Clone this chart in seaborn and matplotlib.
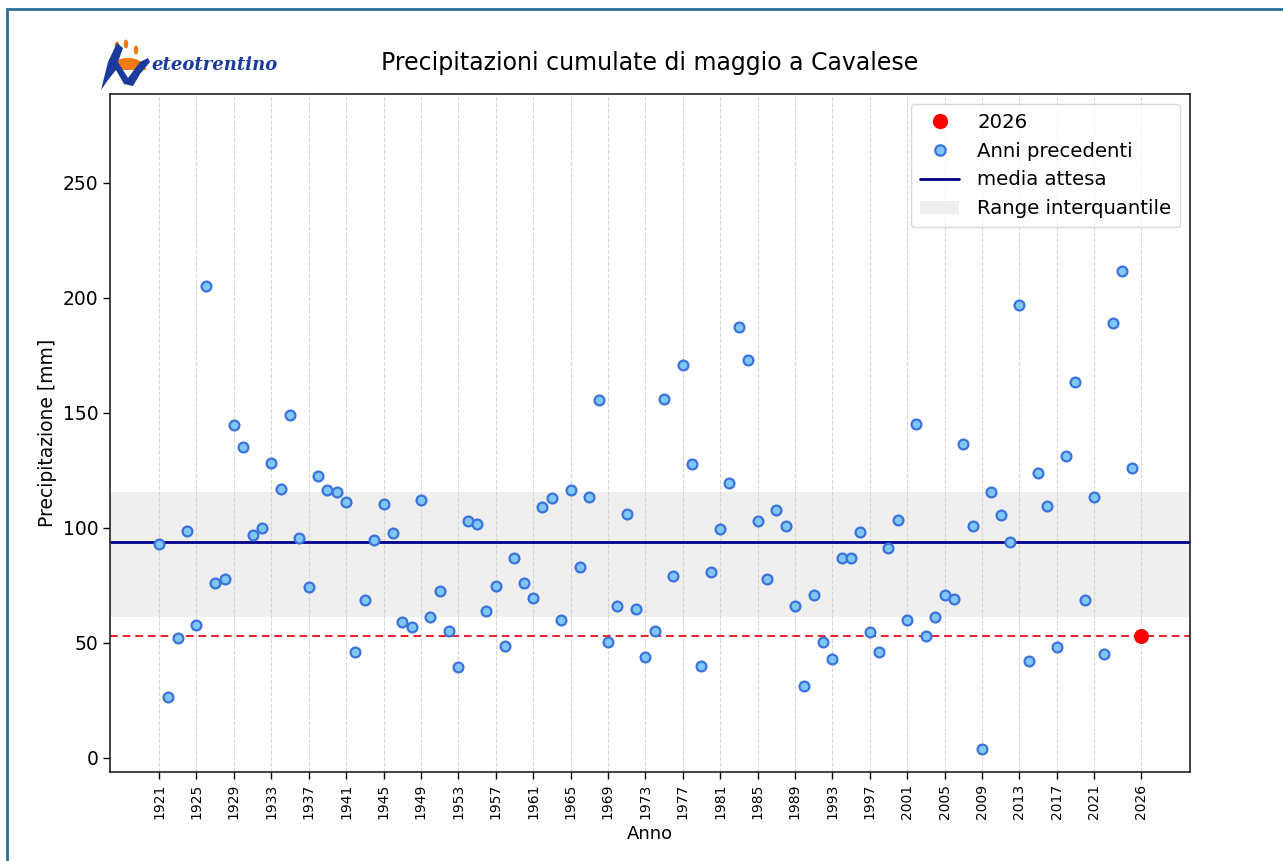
import numpy as np
import pandas as pd
import matplotlib
matplotlib.use("Agg")
import matplotlib.pyplot as plt
import seaborn as sns
from matplotlib.patches import Rectangle, Patch, Polygon, Wedge, Ellipse
from matplotlib.lines import Line2D

# ---- data ----
years = list(range(1921, 2026))
precip = [
    92.9, 26.2, 52.0, 98.7, 57.7, 205.1, 75.8, 77.7, 144.5, 135.1,   # 1921-1930
    97.0, 100.0, 128.1, 117.0, 149.1, 95.7, 74.3, 122.6, 116.2, 115.5,  # 1931-1940
    111.2, 46.0, 68.6, 94.6, 110.3, 97.5, 59.1, 56.8, 112.0, 61.2,   # 1941-1950
    72.3, 55.2, 39.4, 103.0, 101.4, 63.9, 74.6, 48.7, 86.7, 76.1,    # 1951-1960
    69.3, 109.0, 112.9, 59.9, 116.2, 82.9, 113.3, 155.7, 50.4, 65.8,  # 1961-1970
    105.8, 64.8, 43.9, 54.9, 156.1, 79.0, 171.0, 127.5, 39.7, 80.9,   # 1971-1980
    99.6, 119.3, 187.3, 173.0, 102.8, 77.7, 107.9, 100.7, 65.9, 31.3,  # 1981-1990
    70.7, 50.4, 42.9, 87.0, 87.0, 98.1, 54.8, 45.8, 91.0, 103.5,     # 1991-2000
    59.7, 145.1, 53.0, 61.3, 70.9, 69.0, 136.2, 100.9, 3.9, 115.4,    # 2001-2010
    105.4, 93.9, 197.1, 42.0, 123.6, 109.6, 48.1, 131.3, 163.3, 68.6,  # 2011-2020
    113.2, 45.2, 189.1, 211.9, 126.0,                                 # 2021-2025
]
current_year = 2026
current_value = 52.7
mean_expected = 93.6
q25, q75 = 61.0, 115.5
tick_years = list(range(1921, 2022, 4)) + [2026]

title = "Precipitazioni cumulate di maggio a Cavalese"
xlabel = "Anno"
ylabel = "Precipitazione [mm]"

df = pd.DataFrame({"Anno": years, "Precipitazione": precip})

# ---- figure ----
sns.set_style("white")
plt.rcParams["font.family"] = ["DejaVu Sans"]
for k in ["text.color", "axes.labelcolor", "xtick.color", "ytick.color"]:
    plt.rcParams[k] = "black"

W, H = 1283, 861
fig = plt.figure(figsize=(W/100, H/100), dpi=100)
ax = fig.add_axes([110/W, 89/H, 1080/W, 678/H])

ax.axhspan(q25, q75, color="#efefef", zorder=0, lw=0)
ax.axhline(mean_expected, color="#00008b", lw=2, zorder=2)
ax.axhline(current_value, color="#e8202a", lw=1.4, ls=(0, (4, 2.5)), zorder=2)

sns.scatterplot(data=df, x="Anno", y="Precipitazione", ax=ax,
                s=50, color="#80c6f6", edgecolor="#3b72dc", linewidth=1.6,
                zorder=3, legend=False)
ax.scatter([current_year], [current_value], s=95, color="red", zorder=4)

ax.set_xticks(tick_years)
ax.set_xticklabels([str(y) for y in tick_years], rotation=90, fontsize=10)
ax.tick_params(axis="y", labelsize=13.5)
ax.tick_params(axis="both", which="both", length=5, width=1, color="black", direction="out",
               bottom=True, left=True)
ax.set_xlim(1915.75, 2031.25)
ax.set_ylim(-6.3, 288.7)
ax.set_yticks([0, 50, 100, 150, 200, 250])
ax.grid(axis="x", color="#cccccc", ls="--", lw=0.8, alpha=0.8)
ax.grid(axis="y", visible=False)
for s in ax.spines.values():
    s.set_color("#222222")
    s.set_linewidth(1.2)

ax.set_xlabel(xlabel, fontsize=13)
ax.set_ylabel(ylabel, fontsize=13.5)
ax.set_title(title, fontsize=17, pad=17)

handles = [
    Line2D([0], [0], marker="o", ls="", color="red", markersize=10, label=str(current_year)),
    Line2D([0], [0], marker="o", ls="", markerfacecolor="#80c6f6", markeredgecolor="#3b72dc",
           markeredgewidth=1.6, markersize=7.5, label="Anni precedenti"),
    Line2D([0], [0], color="#00008b", lw=2, label="media attesa"),
    Patch(facecolor="#efefef", edgecolor="none", label="Range interquantile"),
]
leg = ax.legend(handles=handles, loc="upper right", fontsize=14.2, frameon=True,
                borderpad=0.45, handlelength=2.0, labelspacing=0.5, handletextpad=0.9)
leg.get_frame().set_edgecolor("#d0d0d0")

# logo (drawn shapes + text)
def fx(x):
    return x / W
def fy(y):
    return 1 - y / H

blue = "#1a3a9c"
orange = "#f07a10"
# orange sun
fig.patches.append(Wedge((fx(128), fy(70)), 0.014, 0, 180, transform=fig.transFigure,
                         color=orange, lw=0))
for (dx, dy) in [(117, 46), (126, 44), (136, 50)]:
    fig.patches.append(Ellipse((fx(dx), fy(dy)), 4.5/W, 9/H, transform=fig.transFigure,
                               color=orange, lw=0))
# blue swoosh "M"
m_pts = [(101, 90), (108, 62), (117, 43), (123, 48), (118, 62), (128, 78), (140, 62),
         (148, 58), (150, 62), (140, 74), (133, 86), (124, 84), (116, 70), (108, 80)]
fig.patches.append(Polygon([(fx(x), fy(y)) for x, y in m_pts], closed=True,
                           transform=fig.transFigure, color=blue, lw=0))
fig.text(fx(151), fy(70), "eteotrentino", fontsize=13, color=blue,
         fontstyle="italic", fontweight="bold", family="DejaVu Serif")

# outer frame
fig.patches.append(Rectangle((7/W, -0.05), 1.2, 1 - 9/H + 0.05, transform=fig.transFigure,
                             fill=False, edgecolor="#2a6f97", lw=2))

fig.savefig("out.png", dpi=100)
